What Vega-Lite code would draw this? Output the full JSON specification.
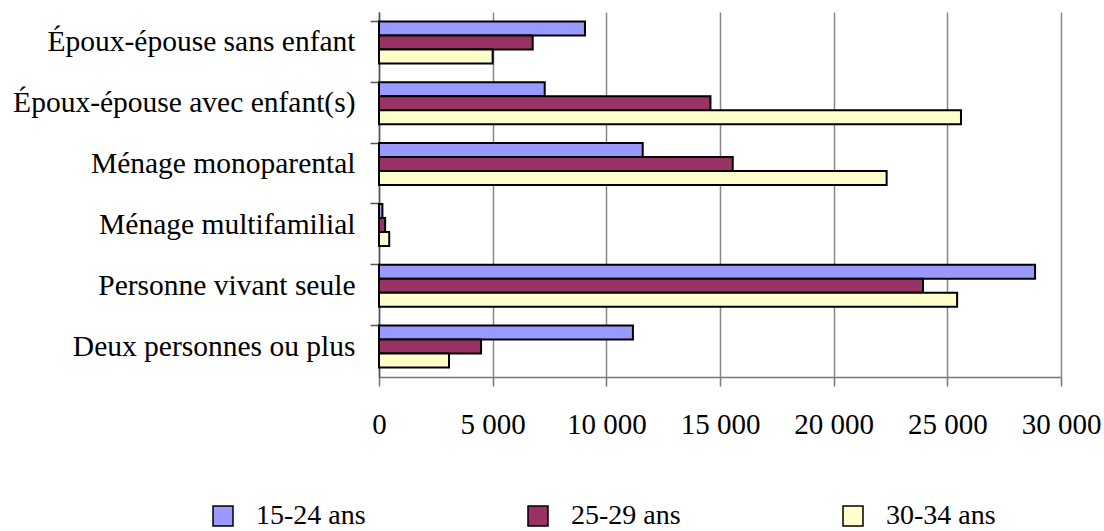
{
  "$schema": "https://vega.github.io/schema/vega-lite/v6.json",
  "autosize": "none",
  "padding": {"left": 379, "top": 12, "right": 43, "bottom": 154},
  "width": 682,
  "height": 365,
  "background": "white",
  "config": {
    "font": "Liberation Serif",
    "view": {"stroke": null},
    "axis": {"labelFont": "Liberation Serif", "labelColor": "black", "titleFont": "Liberation Serif"},
    "legend": {"labelFont": "Liberation Serif"}
  },
  "data": {
    "values": [
      {"type": "Époux-épouse sans enfant", "age": "15-24 ans", "value": 9060},
      {"type": "Époux-épouse sans enfant", "age": "25-29 ans", "value": 6760},
      {"type": "Époux-épouse sans enfant", "age": "30-34 ans", "value": 5000},
      {"type": "Époux-épouse avec enfant(s)", "age": "15-24 ans", "value": 7290},
      {"type": "Époux-épouse avec enfant(s)", "age": "25-29 ans", "value": 14580},
      {"type": "Époux-épouse avec enfant(s)", "age": "30-34 ans", "value": 25600},
      {"type": "Ménage monoparental", "age": "15-24 ans", "value": 11600},
      {"type": "Ménage monoparental", "age": "25-29 ans", "value": 15560},
      {"type": "Ménage monoparental", "age": "30-34 ans", "value": 22330},
      {"type": "Ménage multifamilial", "age": "15-24 ans", "value": 150},
      {"type": "Ménage multifamilial", "age": "25-29 ans", "value": 270},
      {"type": "Ménage multifamilial", "age": "30-34 ans", "value": 450},
      {"type": "Personne vivant seule", "age": "15-24 ans", "value": 28860},
      {"type": "Personne vivant seule", "age": "25-29 ans", "value": 23930},
      {"type": "Personne vivant seule", "age": "30-34 ans", "value": 25430},
      {"type": "Deux personnes ou plus", "age": "15-24 ans", "value": 11170},
      {"type": "Deux personnes ou plus", "age": "25-29 ans", "value": 4490},
      {"type": "Deux personnes ou plus", "age": "30-34 ans", "value": 3080}
    ]
  },
  "mark": {"type": "bar", "stroke": "black", "strokeWidth": 2, "opacity": 1},
  "encoding": {
    "y": {
      "field": "type",
      "type": "nominal",
      "sort": null,
      "scale": {"paddingInner": 0.31, "paddingOuter": 0.155},
      "axis": {
        "title": null,
        "bandPosition": 0,
        "labelFontSize": 29.5,
        "labelPadding": 15,
        "labelLimit": 400,
        "tickSize": 9,
        "tickColor": "#555",
        "tickWidth": 1.5,
        "domainColor": "#555",
        "domainWidth": 1.5,
        "grid": false
      }
    },
    "yOffset": {"field": "age", "type": "nominal", "sort": ["15-24 ans", "25-29 ans", "30-34 ans"], "scale": {"paddingInner": 0, "paddingOuter": 0}},
    "x": {
      "field": "value",
      "type": "quantitative",
      "scale": {"domain": [0, 30000], "nice": false},
      "axis": {
        "title": null,
        "values": [0, 5000, 10000, 15000, 20000, 25000, 30000],
        "labelExpr": "replace(format(datum.value, ','), ',', ' ')",
        "labelFontSize": 29,
        "labelPadding": 24,
        "labelFlush": false,
        "tickSize": 9,
        "tickColor": "#777",
        "tickWidth": 1.5,
        "domainColor": "#777",
        "domainWidth": 1.5,
        "grid": true,
        "gridColor": "#888",
        "gridWidth": 1.5
      }
    },
    "color": {
      "field": "age",
      "type": "nominal",
      "sort": ["15-24 ans", "25-29 ans", "30-34 ans"],
      "scale": {"domain": ["15-24 ans", "25-29 ans", "30-34 ans"], "range": ["#9999FF", "#993366", "#FFFFCC"]},
      "legend": {
        "title": null,
        "orient": "none",
        "direction": "horizontal",
        "legendX": -170,
        "legendY": 490,
        "padding": 0,
        "symbolType": "square",
        "symbolSize": 400,
        "symbolStrokeColor": "black",
        "symbolStrokeWidth": 1.5,
        "symbolOpacity": 1,
        "labelFontSize": 28,
        "labelOffset": 19,
        "columnPadding": 158,
        "labelLimit": 300
      }
    }
  }
}
